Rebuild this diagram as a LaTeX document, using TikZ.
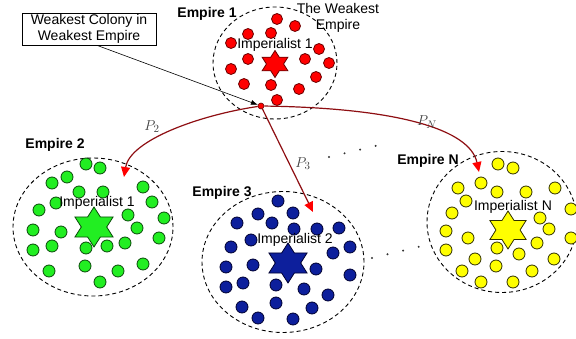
\documentclass[tikz,border=0pt]{standalone}
\usepackage{fontspec}
\setmainfont{Liberation Sans}
\usepackage{xcolor}
\usepackage{tikz}
\usetikzlibrary{arrows.meta,positioning,shapes.geometric}
\definecolor{redfill}{HTML}{FF0000}
\definecolor{redline}{HTML}{6A0000}
\definecolor{greenfill}{HTML}{22EE22}
\definecolor{greenline}{HTML}{0A4A0A}
\definecolor{bluefill}{HTML}{0D1F9C}
\definecolor{blueline}{HTML}{000030}
\definecolor{yellowfill}{HTML}{FFFF00}
\definecolor{yellowline}{HTML}{303000}
\definecolor{movecol}{HTML}{8E0E12}

\begin{document}
\begin{tikzpicture}[
  x=1pt,y=-1pt,
  empire/.style={draw,ellipse,dash pattern=on 4pt off 3pt,line width=0.9pt,
                 inner sep=0pt},
  etitle/.style={font=\fontsize{14}{16}\selectfont\bfseries,inner sep=0pt},
  txt/.style={font=\fontsize{14}{16}\selectfont,inner sep=0pt},
  ruler/.style={star,star points=6,star point ratio=1.73,draw,line width=0.8pt,
                inner sep=0pt,xscale=1.1},
  colony/.style={line width=0.8pt},
  move/.style={-{Triangle[length=10pt,width=9pt,color=redfill]},draw=movecol,
               line width=1.2pt},
  pname/.style={font=\fontsize{15}{17}\selectfont,text=black!75,inner sep=0pt},
  ellipsis/.style={line width=2.2pt,line cap=round,dash pattern=on 0pt off 16pt,
                   black!80}
]
\clip (0,0) rectangle (576,339);

\node[empire,minimum width=124pt,minimum height=112pt] (emp1) at (275,63) {};
\node[empire,minimum width=160pt,minimum height=138pt] (emp2) at (93,227) {};
\node[empire,minimum width=162pt,minimum height=141pt] (emp3) at (283,262) {};
\node[empire,minimum width=150pt,minimum height=141pt] (empN) at (502,222) {};

\node[etitle] (title1) at (207,14) {Empire 1};
\node[etitle] (title2) at (55,145) {Empire 2};
\node[etitle] (title3) at (222,193) {Empire 3};
\node[etitle] (titleN) at (428,161) {Empire N};
\node[txt,align=center] (weakest) at (338,18) {The Weakest\\Empire};

\foreach \p in {(277,19),(295,26),(248,34),(271,33),(231,43),(319,49),(248,59),
                (305,59),(329,63),(231,69),(316,77),(244,84),(271,85),(299,89),
                (277,100)}
  \filldraw[colony,fill=redfill,draw=redline] \p circle (5.5pt);
\foreach \p in {(86,164),(100,168),(67,177),(52,183),(79,192),(103,192),(143,187),
                (56,203),(152,202),(39,210),(128,215),(164,218),(33,230),(61,232),
                (137,228),(159,238),(33,250),(52,246),(86,248),(107,246),(125,243),
                (49,271),(85,266),(118,271),(143,264),(100,282)}
  \filldraw[colony,fill=greenfill,draw=greenline] \p circle (6pt);
\foreach \p in {(278,201),(258,214),(293,213),(237,223),(272,223),(294,229),
                (317,229),(339,228),(251,240),(231,247),(350,247),(333,253),
                (253,265),(226,267),(316,269),(350,275),(243,283),(226,287),
                (276,285),(304,289),(328,295),(276,303),(242,307),(312,308),
                (258,318),(293,319)}
  \filldraw[colony,fill=bluefill,draw=blueline] \p circle (6pt);
\foreach \p in {(498,164),(513,168),(481,183),(458,188),(497,192),(526,192),
                (555,188),(466,201),(452,213),(571,209),(540,218),(549,229),
                (446,231),(468,238),(571,238),(537,243),(497,248),(519,254),
                (446,250),(475,259),(554,259),(496,266),(462,271),(532,271),
                (481,282),(513,282)}
  \filldraw[colony,fill=yellowfill,draw=yellowline] \p circle (6pt);

\node[txt] (imp1) at (275,45) {Imperialist 1};
\node[txt] (imp2) at (97,203) {Imperialist 1};
\node[txt] (imp3) at (295,240) {Imperialist 2};
\node[txt] (impN) at (513,207) {Imperialist N};

\node[ruler,fill=redfill,draw=redline,minimum size=27pt] (king1) at (275,64) {};
\node[ruler,fill=greenfill,draw=greenline,minimum size=40pt] (king2) at (94,227) {};
\node[ruler,fill=bluefill,draw=blueline,minimum size=40pt] (king3) at (288,263) {};
\node[ruler,fill=yellowfill,draw=yellowline,minimum size=38pt] (kingN) at (508,230) {};

\node[draw,line width=0.7pt,txt,align=center,minimum width=134pt,
      minimum height=32pt] (note) at (89,29) {Weakest Colony in\\Weakest Empire};
\node[circle,fill=redfill,draw=redline,line width=0.6pt,inner sep=0pt,
      minimum size=6pt] (weak) at (261,106) {};

\coordinate (to2) at (124,177);
\coordinate (to3) at (313,212);
\coordinate (toN) at (479,172);
\draw[move] (weak) .. controls (200,115) and (130,140) .. (to2);
\draw[move] (weak) -- (to3);
\draw[move] (weak) .. controls (400,108) and (470,130) .. (toN);
\draw[-{Latex[length=7pt,width=5pt]},line width=0.6pt]
  ([xshift=8pt]note.south) -- (weak);

\node[pname] (p2) at (152,127) {$P_2$};
\node[pname] (p3) at (303,164) {$P_3$};
\node[pname] (pN) at (427,122) {$P_N$};

\coordinate (gapA1) at (329,157);
\coordinate (gapA2) at (391.2,142.2);
\coordinate (gapB1) at (372,258);
\coordinate (gapB2) at (418.7,246.8);
\draw[ellipsis] (gapA1) -- (gapA2);
\draw[ellipsis] (gapB1) -- (gapB2);
\end{tikzpicture}
\end{document}
